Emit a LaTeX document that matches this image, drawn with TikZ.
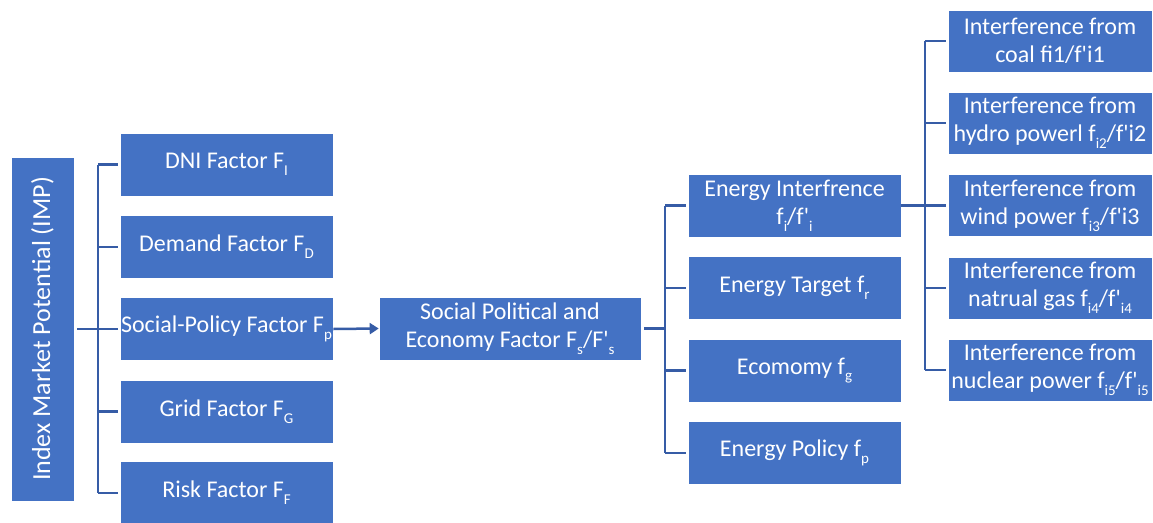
\documentclass[tikz,border=0pt]{standalone}
\usepackage{fontspec}
\setmainfont{Carlito}
\usetikzlibrary{arrows.meta}
\definecolor{boxblue}{RGB}{68,114,196}
\definecolor{linkblue}{RGB}{54,92,166}
\newcommand\lowidx[1]{\raisebox{-0.28em}{\fontsize{15}{15}\selectfont #1}}
\newcommand\ap{\textquotesingle}
\tikzset{
  box/.style={rectangle, fill=boxblue, draw=white, line width=0.6pt,
    text=white, inner sep=0pt, align=center,
    font=\fontsize{24}{28}\selectfont},
  colA/.style={box, minimum width=213pt, minimum height=63pt},
  colM/.style={box, minimum width=262pt, minimum height=63pt},
  colR/.style={box, minimum width=204pt, minimum height=62pt},
  link/.style={draw=linkblue, line width=2.5pt},
}
\begin{document}
\begin{tikzpicture}[x=1pt, y=-1pt]
\useasboundingbox[fill=white] (0,0) rectangle (1153,522);

% root
\node[box, rotate=90, minimum width=344pt, minimum height=63pt,
  font=\fontsize{26}{30}\selectfont] (imp) at (42.5,329) {Index Market Potential (IMP)};

% first level
\node[colA] (dni)  at (226.5,164.5) {DNI Factor F\lowidx{I}};
\node[colA] (dem)  at (226.5,247)   {Demand Factor F\lowidx{D}};
\node[colA] (soc)  at (226.5,329)   {Social-Policy Factor F\lowidx{p}};
\node[colA] (grid) at (226.5,411.5) {Grid Factor F\lowidx{G}};
\node[colA] (risk) at (226.5,493)   {Risk Factor F\lowidx{F}};

% social political and economy
\node[colM] (spe) at (510,328.5) {Social Political and\\Economy Factor F\lowidx{s}/F\ap\lowidx{s}};

% second level
\node[colA] (ei)  at (794.5,205.5) {Energy Interfrence\\f\lowidx{i}/f\ap\lowidx{i}};
\node[colA] (et)  at (794.5,288)   {Energy Target f\lowidx{r}};
\node[colA] (eco) at (794.5,370.5) {Ecomomy f\lowidx{g}};
\node[colA] (ep)  at (794.5,453)   {Energy Policy f\lowidx{p}};

% interference sources
\node[colR] (i1) at (1050,41)    {Interference from\\coal fi1/f\ap i1};
\node[colR] (i2) at (1050,123)   {Interference from\\hydro powerl f\lowidx{i2}/f\ap i2};
\node[colR] (i3) at (1050,205.5) {Interference from\\wind power f\lowidx{i3}/f\ap i3};
\node[colR] (i4) at (1050,288)   {Interference from\\natrual gas f\lowidx{i4}/f\ap\lowidx{i4}};
\node[colR] (i5) at (1050,370)   {Interference from\\nuclear power f\lowidx{i5}/f\ap\lowidx{i5}};

% bracket: IMP -> factors
\coordinate (b1) at (98,329);
\draw[link] ([xshift=3pt]imp.south) -- (b1);
\draw[link] (b1 |- dni.west) -- (b1 |- risk.west);
\foreach \n in {dni,dem,soc,grid,risk}
  \draw[link] (b1 |- \n.west) -- ([xshift=-2pt]\n.west);

% arrow: social-policy -> social political and economy
\draw[link, -{Triangle[length=9pt,width=11pt]}] (soc.east) -- (spe.west);

% bracket: social political and economy -> sub-factors
\coordinate (b2) at (665,328.5);
\draw[link] ([xshift=3pt]spe.east) -- (b2);
\draw[link] (b2 |- ei.west) -- (b2 |- ep.west);
\foreach \n in {ei,et,eco,ep}
  \draw[link] (b2 |- \n.west) -- ([xshift=-2pt]\n.west);

% bracket: energy interference -> sources
\coordinate (b3) at (925,205.5);
\draw[link] (ei.east) -- (b3);
\draw[link] (b3 |- i1.west) -- (b3 |- i5.west);
\foreach \n in {i1,i2,i3,i4,i5}
  \draw[link] (b3 |- \n.west) -- ([xshift=-2pt]\n.west);
\end{tikzpicture}
\end{document}
